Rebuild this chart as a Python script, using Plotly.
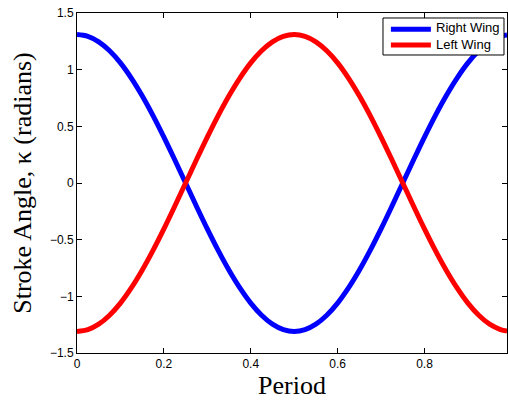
import plotly.graph_objects as go

# Fraction of the stroke period
period = [0.0, 0.025, 0.05, 0.075, 0.1, 0.125, 0.15, 0.175, 0.2, 0.225,
          0.25, 0.275, 0.3, 0.325, 0.35, 0.375, 0.4, 0.425, 0.45, 0.475,
          0.5, 0.525, 0.55, 0.575, 0.6, 0.625, 0.65, 0.675, 0.7, 0.725,
          0.75, 0.775, 0.8, 0.825, 0.85, 0.875, 0.9, 0.925, 0.95, 0.975, 0.99]

# Stroke angle (radians) of each wing
right_wing = [1.31, 1.294, 1.246, 1.167, 1.06, 0.926, 0.77, 0.595, 0.405, 0.205,
              0.0, -0.205, -0.405, -0.595, -0.77, -0.926, -1.06, -1.167, -1.246, -1.294,
              -1.31, -1.294, -1.246, -1.167, -1.06, -0.926, -0.77, -0.595, -0.405, -0.205,
              0.0, 0.205, 0.405, 0.595, 0.77, 0.926, 1.06, 1.167, 1.246, 1.294, 1.307]
left_wing = [-1.31, -1.294, -1.246, -1.167, -1.06, -0.926, -0.77, -0.595, -0.405, -0.205,
             0.0, 0.205, 0.405, 0.595, 0.77, 0.926, 1.06, 1.167, 1.246, 1.294,
             1.31, 1.294, 1.246, 1.167, 1.06, 0.926, 0.77, 0.595, 0.405, 0.205,
             0.0, -0.205, -0.405, -0.595, -0.77, -0.926, -1.06, -1.167, -1.246, -1.294, -1.307]

series_names = ["Right Wing", "Left Wing"]
series_colors = ["#0000ff", "#ff0000"]

x_ticks = [0, 0.2, 0.4, 0.6, 0.8]
x_tick_text = ["0", "0.2", "0.4", "0.6", "0.8"]
y_ticks = [-1.5, -1, -0.5, 0, 0.5, 1, 1.5]
y_tick_text = ["\u22121.5", "\u22121", "\u22120.5", "0", "0.5", "1", "1.5"]

fig = go.Figure()
for name, vals, col in zip(series_names, [right_wing, left_wing], series_colors):
    fig.add_trace(go.Scatter(x=period, y=vals, mode="lines", name=name,
                             line=dict(color=col, width=5, shape="spline"),
                             showlegend=False))

axis_common = dict(showgrid=False, zeroline=False, showline=True, linecolor="black",
                   linewidth=1, mirror="ticks", ticks="inside", ticklen=5,
                   tickcolor="black", tickfont=dict(family="Arial", size=12, color="black"))

title_font = dict(family="Liberation Serif", size=26, color="black")
fig.update_xaxes(range=[0, 0.99], tickvals=x_ticks, ticktext=x_tick_text,
                 title=dict(text="Period", font=title_font, standoff=2),
                 **axis_common)
fig.update_yaxes(range=[-1.5, 1.5], tickvals=y_ticks, ticktext=y_tick_text,
                 title=dict(text="Stroke Angle, \u03ba (radians)", font=title_font, standoff=10),
                 **axis_common)

# Compact boxed legend in the upper-right corner (paper coordinates)
box = dict(x0=0.7116, x1=0.993, y0=0.8765, y1=0.9853)
row_y = [0.952, 0.906]
shapes = [dict(type="rect", xref="paper", yref="paper", layer="above",
               fillcolor="white", line=dict(color="black", width=1), **box)]
for col, ry in zip(series_colors, row_y):
    shapes.append(dict(type="line", xref="paper", yref="paper", layer="above",
                       x0=0.730, x1=0.823, y0=ry, y1=ry,
                       line=dict(color=col, width=5)))
annotations = [dict(text="<br>".join(series_names), xref="paper", yref="paper",
                    x=0.8326, y=(box["y0"] + box["y1"]) / 2,
                    xanchor="left", yanchor="middle", align="left", showarrow=False,
                    borderpad=0,
                    font=dict(family="Arial", size=13, color="black"))]

fig.update_layout(
    width=508, height=402,
    margin=dict(l=77, r=1, t=13, b=49),
    paper_bgcolor="white", plot_bgcolor="white",
    shapes=shapes, annotations=annotations,
)

fig.write_html("out.html")
